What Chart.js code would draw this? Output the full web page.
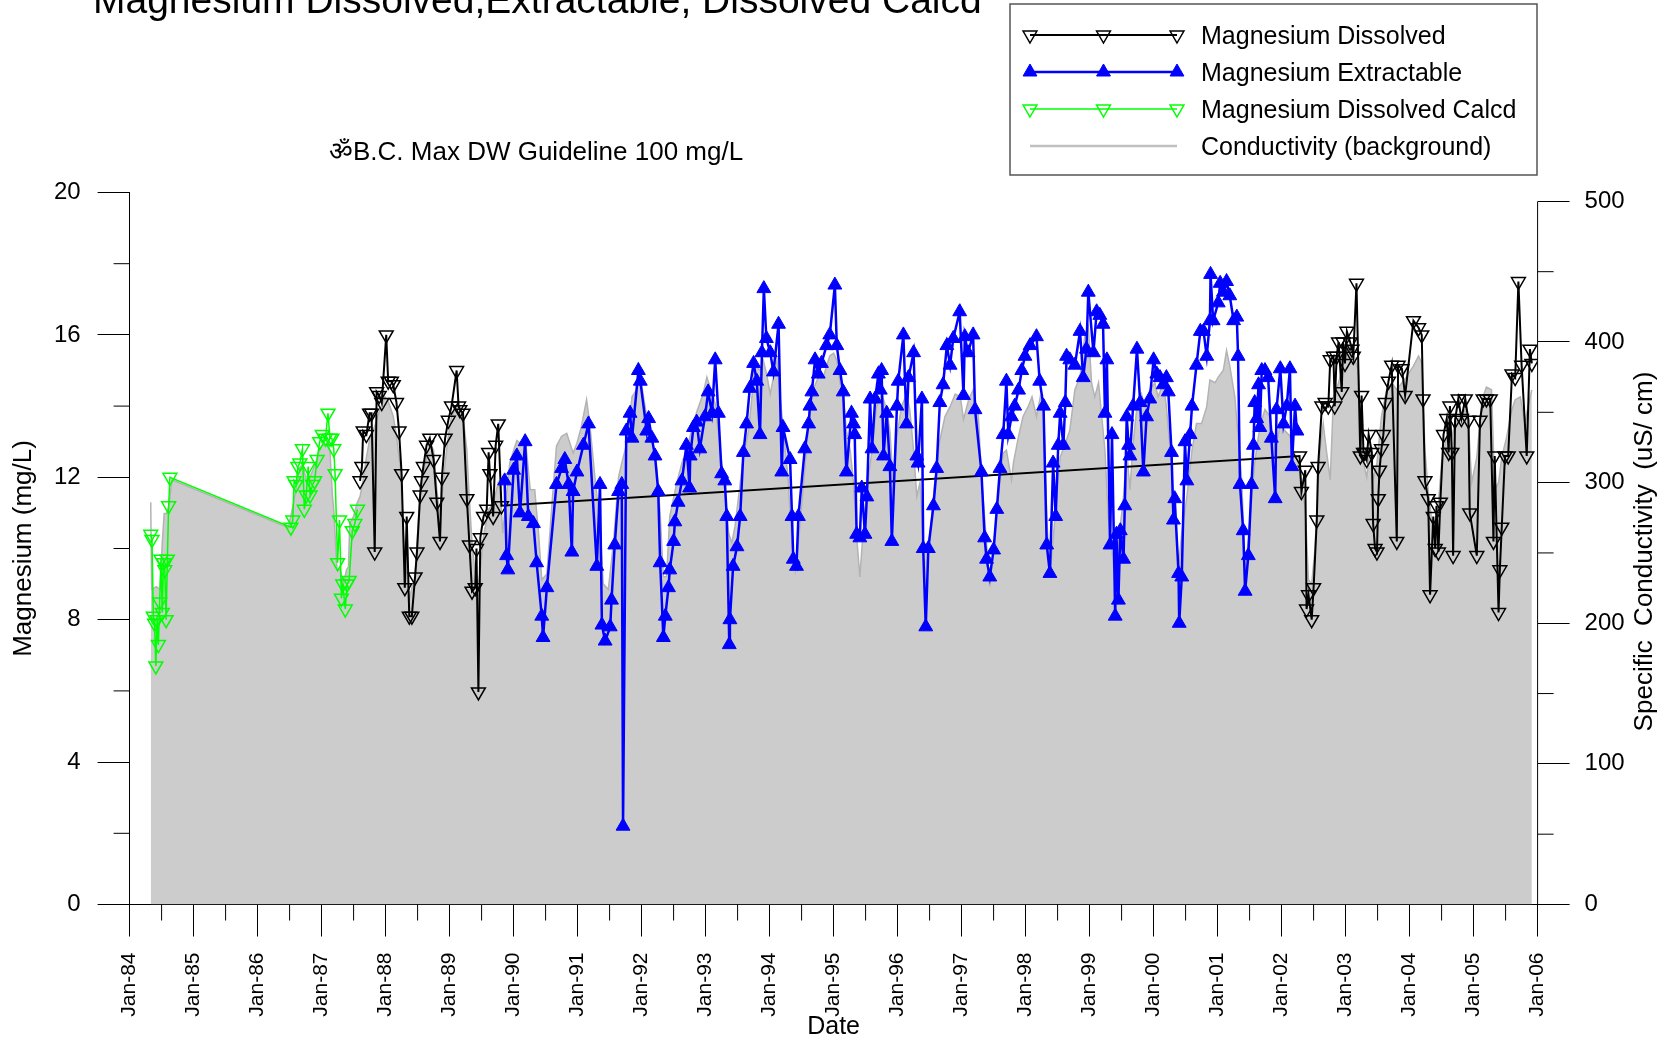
<!DOCTYPE html>
<html>
<head>
<meta charset="utf-8">
<script src="https://cdn.jsdelivr.net/npm/chart.js@4.4.0/dist/chart.umd.min.js"></script>
<style>
  html, body { margin: 0; padding: 0; background: #fff; }
</style>
</head>
<body>
<canvas id="chart" width="1665" height="1040"></canvas>
<script>
// [decimal year, mg/L]
var calcdMg = [
  [1984.33,10.4],[1984.35,10.25],[1984.37,8.1],[1984.39,7.9],[1984.41,6.7],[1984.43,8.0],[1984.45,7.3],[1984.47,8.5],
  [1984.49,9.7],[1984.51,8.2],[1984.53,9.6],[1984.55,9.4],[1984.57,8.0],[1984.59,9.7],[1984.61,11.2],[1984.63,12.0],
  [1986.52,10.6],[1986.55,10.8],[1986.57,11.9],[1986.60,11.8],[1986.63,12.3],[1986.66,12.4],[1986.70,12.8],[1986.73,11.1],
  [1986.76,11.5],[1986.79,12.3],[1986.82,11.5],[1986.86,11.8],[1986.89,11.9],[1986.93,12.5],[1986.97,13.0],[1987.01,13.2],
  [1987.06,13.1],[1987.10,13.8],[1987.13,13.1],[1987.16,13.1],[1987.19,12.8],[1987.21,12.1],[1987.25,9.6],[1987.28,10.8],
  [1987.31,8.6],[1987.33,9.0],[1987.37,8.3],[1987.40,9.0],[1987.43,9.1],[1987.48,10.5],[1987.52,10.7],[1987.56,11.1]
];

var dissolvedMg = [
  [1987.60,11.9],[1987.63,12.3],[1987.65,13.3],[1987.70,13.2],[1987.75,13.8],[1987.78,13.8],[1987.83,9.9],[1987.86,14.4],
  [1987.90,14.3],[1987.94,14.1],[1988.01,16.0],[1988.04,14.7],[1988.09,14.7],[1988.12,14.6],[1988.17,14.1],[1988.21,13.3],
  [1988.25,12.1],[1988.30,8.9],[1988.33,10.9],[1988.37,8.1],[1988.41,8.1],[1988.46,9.2],[1988.49,9.9],[1988.54,11.5],
  [1988.56,11.9],[1988.59,12.3],[1988.64,12.9],[1988.69,13.1],[1988.75,12.5],[1988.80,11.3],[1988.85,10.2],[1988.88,12.0],
  [1988.93,13.1],[1988.98,13.6],[1989.03,14.0],[1989.11,15.0],[1989.14,14.0],[1989.16,13.9],[1989.21,13.8],[1989.27,11.4],
  [1989.31,10.1],[1989.35,8.8],[1989.40,8.9],[1989.42,10.0],[1989.45,5.97],[1989.48,10.3],[1989.53,10.9],[1989.58,11.1],
  [1989.61,12.7],[1989.63,12.1],[1989.68,10.9],[1989.72,12.9],[1989.76,13.5],[1989.81,11.2],
  [2002.28,12.6],[2002.31,11.6],[2002.37,12.2],[2002.39,8.3],[2002.42,8.7],[2002.47,8.0],[2002.50,8.9],[2002.55,10.8],
  [2002.57,12.3],[2002.63,14.0],[2002.68,14.1],[2002.73,14.0],[2002.76,15.3],[2002.81,15.4],[2002.83,14.0],[2002.86,15.4],
  [2002.89,15.8],[2002.94,14.4],[2002.96,15.8],[2002.99,15.2],[2003.02,16.1],[2003.07,15.8],[2003.10,15.6],[2003.12,15.4],
  [2003.17,17.45],[2003.23,12.6],[2003.25,14.3],[2003.28,12.7],[2003.30,12.7],[2003.33,12.5],[2003.36,13.2],[2003.41,12.7],
  [2003.43,10.7],[2003.46,10.0],[2003.49,9.9],[2003.51,11.4],[2003.53,12.2],[2003.56,12.8],[2003.59,13.2],[2003.62,14.1],
  [2003.67,14.7],[2003.72,15.15],[2003.80,10.2],[2003.82,15.15],[2003.88,15.05],[2003.93,14.3],[2004.06,16.4],[2004.14,16.2],
  [2004.19,16.0],[2004.21,14.2],[2004.24,11.9],[2004.29,11.4],[2004.32,8.7],[2004.37,10.9],[2004.40,10.0],[2004.42,11.2],
  [2004.45,9.9],[2004.48,11.3],[2004.53,13.2],[2004.58,13.65],[2004.61,12.7],[2004.63,14.0],[2004.66,12.7],[2004.68,9.8],
  [2004.71,13.6],[2004.76,14.2],[2004.81,13.65],[2004.87,14.2],[2004.92,13.6],[2004.94,11.0],[2005.05,9.8],[2005.10,13.6],
  [2005.15,14.2],[2005.20,14.2],[2005.26,14.2],[2005.31,10.2],[2005.33,12.6],[2005.39,8.2],[2005.41,9.4],[2005.44,10.6],
  [2005.49,12.6],[2005.54,12.6],[2005.60,14.9],[2005.65,14.8],[2005.70,17.5],[2005.75,15.15],[2005.83,12.6],[2005.88,15.6],
  [2005.91,15.2]
];

var extractableMg = [
  [1989.86,11.9],[1989.89,9.8],[1989.91,9.4],[1990.00,12.2],[1990.05,12.6],[1990.10,11.0],[1990.18,13.0],[1990.23,10.9],
  [1990.31,10.7],[1990.36,9.6],[1990.44,8.1],[1990.46,7.5],[1990.52,8.9],[1990.67,11.8],[1990.75,12.25],[1990.80,12.5],
  [1990.86,11.8],[1990.91,9.9],[1990.93,11.6],[1990.99,12.15],[1991.09,12.9],[1991.17,13.5],[1991.30,9.5],[1991.35,11.8],
  [1991.38,7.85],[1991.43,7.4],[1991.51,7.8],[1991.53,8.55],[1991.58,10.1],[1991.64,11.6],[1991.69,11.8],[1991.71,2.2],
  [1991.76,13.3],[1991.82,13.8],[1991.85,13.1],[1991.95,15.0],[1991.98,14.7],[1992.08,13.3],[1992.11,13.65],[1992.16,13.1],
  [1992.21,12.6],[1992.26,11.6],[1992.29,9.6],[1992.34,7.5],[1992.37,8.1],[1992.42,8.9],[1992.44,9.4],[1992.50,10.2],
  [1992.52,10.75],[1992.57,11.3],[1992.63,11.9],[1992.70,12.9],[1992.75,11.7],[1992.76,12.6],[1992.81,13.4],[1992.86,13.55],
  [1992.91,12.8],[1992.99,13.7],[1993.04,14.4],[1993.10,13.8],[1993.15,15.3],[1993.20,13.8],[1993.25,12.1],[1993.30,11.9],
  [1993.33,10.9],[1993.37,7.3],[1993.38,8.0],[1993.43,9.5],[1993.49,10.05],[1993.54,10.9],[1993.59,12.7],[1993.64,13.5],
  [1993.69,14.5],[1993.75,15.2],[1993.80,14.7],[1993.85,13.2],[1993.88,15.5],[1993.91,17.3],[1993.95,15.9],[1994.01,15.5],
  [1994.06,14.96],[1994.14,16.3],[1994.19,12.15],[1994.21,13.4],[1994.32,12.5],[1994.35,10.9],[1994.37,9.7],[1994.42,9.5],
  [1994.45,10.9],[1994.55,12.8],[1994.61,13.5],[1994.63,14.0],[1994.66,14.4],[1994.71,15.3],[1994.76,14.9],[1994.81,15.2],
  [1994.89,15.7],[1994.94,16.0],[1995.02,17.4],[1995.05,15.7],[1995.10,15.0],[1995.15,14.4],[1995.20,12.15],[1995.28,13.8],
  [1995.31,13.5],[1995.33,13.2],[1995.36,10.4],[1995.41,10.3],[1995.44,11.7],[1995.49,10.4],[1995.52,11.45],[1995.57,14.2],
  [1995.60,12.8],[1995.65,14.2],[1995.70,14.9],[1995.73,14.45],[1995.75,15.0],[1995.78,12.6],[1995.83,13.8],[1995.88,12.3],
  [1995.91,10.2],[1995.99,14.0],[1996.01,14.7],[1996.09,16.0],[1996.14,13.5],[1996.17,14.8],[1996.25,15.5],[1996.30,12.6],
  [1996.32,12.4],[1996.38,14.2],[1996.40,10.0],[1996.44,7.8],[1996.48,10.0],[1996.56,11.2],[1996.61,12.25],[1996.66,14.1],
  [1996.71,14.6],[1996.77,15.7],[1996.82,15.15],[1996.87,15.9],[1996.97,16.65],[1997.03,14.3],[1997.05,15.95],[1997.10,15.5],
  [1997.18,16.0],[1997.21,13.9],[1997.31,12.15],[1997.36,10.3],[1997.39,9.7],[1997.44,9.2],[1997.50,9.96],[1997.55,11.1],
  [1997.60,12.25],[1997.65,13.2],[1997.70,14.7],[1997.73,13.2],[1997.78,13.7],[1997.83,14.0],[1997.89,14.45],[1997.94,15.0],
  [1997.99,15.4],[1998.07,15.7],[1998.17,15.95],[1998.22,14.7],[1998.28,14.0],[1998.33,10.1],[1998.38,9.3],[1998.43,12.4],
  [1998.47,10.9],[1998.51,12.9],[1998.54,13.8],[1998.59,12.9],[1998.62,14.1],[1998.64,15.4],[1998.69,15.3],[1998.77,15.15],
  [1998.85,16.1],[1998.90,14.8],[1998.95,15.6],[1998.98,17.2],[1999.06,15.5],[1999.11,16.65],[1999.16,16.55],[1999.21,16.3],
  [1999.24,13.8],[1999.27,15.3],[1999.32,10.1],[1999.35,13.2],[1999.40,8.1],[1999.42,10.4],[1999.45,8.55],[1999.48,10.5],
  [1999.53,9.7],[1999.55,11.2],[1999.58,13.7],[1999.61,12.9],[1999.63,12.6],[1999.68,14.0],[1999.74,15.6],[1999.79,14.1],
  [1999.84,12.15],[1999.89,13.7],[1999.94,14.2],[2000.00,15.3],[2000.05,14.9],[2000.10,14.8],[2000.15,14.6],[2000.20,14.8],
  [2000.23,14.4],[2000.28,12.7],[2000.31,10.8],[2000.33,11.4],[2000.39,9.3],[2000.40,7.9],[2000.44,9.2],[2000.49,13.0],
  [2000.52,11.9],[2000.57,13.2],[2000.60,14.0],[2000.67,15.15],[2000.73,16.1],[2000.78,16.1],[2000.83,15.4],[2000.88,16.4],
  [2000.89,17.7],[2000.93,16.4],[2001.01,16.9],[2001.04,17.45],[2001.09,17.2],[2001.14,17.5],[2001.19,17.1],[2001.25,16.4],
  [2001.30,16.5],[2001.32,15.4],[2001.35,11.8],[2001.40,10.5],[2001.43,8.8],[2001.48,9.8],[2001.53,11.8],[2001.56,12.9],
  [2001.58,14.1],[2001.61,13.65],[2001.64,14.6],[2001.66,13.4],[2001.69,15.0],[2001.74,15.0],[2001.79,14.8],[2001.84,13.1],
  [2001.90,11.4],[2001.92,13.9],[2001.98,15.05],[2002.03,13.5],[2002.08,14.0],[2002.13,15.05],[2002.16,12.3],[2002.21,14.0],
  [2002.24,13.3]
];

// [decimal year, uS/cm]
var conductivity = [
  [1984.33,286],[1984.345,224],[1984.42,226],[1984.475,224],[1984.51,257],[1984.54,278],[1984.58,278],[1984.62,285],[1984.66,302],
  [1986.48,268],[1986.56,285],[1986.61,299],[1986.66,311],[1986.71,313],[1986.77,299],[1986.82,304],[1986.90,313],[1986.95,321],
  [1987.00,326],[1987.08,328],[1987.13,323],[1987.17,290],[1987.19,281],[1987.24,238],[1987.29,238],[1987.34,228],[1987.39,238],
  [1987.42,240],[1987.44,271],[1987.50,276],[1987.55,285],[1987.60,290],[1987.65,302],[1987.70,318],[1987.76,333],[1987.83,340],
  [1987.91,352],[1987.99,361],[1988.04,358],[1988.12,347],[1988.17,333],[1988.23,311],[1988.28,262],[1988.36,215],[1988.41,225],
  [1988.46,233],[1988.54,295],[1988.64,318],[1988.69,328],[1988.75,323],[1988.80,295],[1988.85,276],[1988.93,314],[1988.98,333],
  [1989.03,347],[1989.11,354],[1989.16,354],[1989.21,347],[1989.27,323],[1989.30,295],[1989.35,257],[1989.40,236],[1989.45,228],
  [1989.48,238],[1989.53,262],[1989.61,281],[1989.68,285],[1989.76,300],[1989.79,295],[1989.83,264],[1989.87,283],[1989.94,314],
  [1990.05,330],[1990.13,327],[1990.18,333],[1990.26,295],[1990.33,295],[1990.39,264],[1990.44,231],[1990.52,235],[1990.60,285],
  [1990.67,326],[1990.75,333],[1990.83,335],[1990.88,328],[1990.93,321],[1990.99,328],[1991.06,340],[1991.14,359],[1991.19,342],
  [1991.27,304],[1991.35,271],[1991.40,228],[1991.48,224],[1991.56,257],[1991.64,304],[1991.69,314],[1991.77,328],[1991.85,361],
  [1991.92,366],[1991.98,375],[1992.03,361],[1992.08,347],[1992.16,333],[1992.24,309],[1992.29,278],[1992.34,233],[1992.39,233],
  [1992.44,276],[1992.55,300],[1992.63,314],[1992.70,323],[1992.78,337],[1992.86,350],[1992.96,363],[1993.02,375],[1993.07,368],
  [1993.15,356],[1993.23,323],[1993.30,295],[1993.36,264],[1993.41,257],[1993.46,269],[1993.51,288],[1993.59,318],[1993.67,337],
  [1993.72,359],[1993.77,383],[1993.85,380],[1993.90,387],[1993.95,378],[1994.01,363],[1994.06,375],[1994.11,390],[1994.16,363],
  [1994.24,326],[1994.29,302],[1994.35,257],[1994.40,238],[1994.45,257],[1994.53,300],[1994.61,340],[1994.68,366],[1994.76,375],
  [1994.84,375],[1994.89,383],[1994.94,390],[1995.00,392],[1995.05,387],[1995.10,371],[1995.15,361],[1995.20,337],[1995.26,323],
  [1995.31,300],[1995.36,262],[1995.41,233],[1995.46,264],[1995.52,295],[1995.60,323],[1995.67,354],[1995.75,363],[1995.83,352],
  [1995.88,337],[1995.93,300],[1995.99,333],[1996.06,354],[1996.14,363],[1996.19,352],[1996.25,323],[1996.30,290],[1996.35,300],
  [1996.40,257],[1996.45,252],[1996.51,264],[1996.58,300],[1996.66,330],[1996.74,347],[1996.82,354],[1996.90,363],[1996.98,361],
  [1997.03,345],[1997.11,359],[1997.18,366],[1997.26,349],[1997.31,304],[1997.39,257],[1997.44,226],[1997.50,252],[1997.57,288],
  [1997.65,321],[1997.70,323],[1997.78,302],[1997.81,314],[1997.89,333],[1997.96,347],[1998.04,354],[1998.10,361],[1998.17,347],
  [1998.23,361],[1998.28,354],[1998.33,276],[1998.38,233],[1998.46,276],[1998.54,318],[1998.62,328],[1998.69,337],[1998.77,366],
  [1998.85,375],[1998.93,406],[1998.98,411],[1999.03,371],[1999.08,361],[1999.14,371],[1999.19,347],[1999.24,323],[1999.29,276],
  [1999.35,252],[1999.40,228],[1999.45,257],[1999.53,290],[1999.58,323],[1999.63,295],[1999.68,328],[1999.74,354],[1999.81,363],
  [1999.87,354],[1999.94,366],[2000.02,371],[2000.07,361],[2000.15,371],[2000.20,354],[2000.26,323],[2000.31,290],[2000.39,240],
  [2000.44,264],[2000.52,290],[2000.60,323],[2000.67,342],[2000.75,342],[2000.83,354],[2000.88,373],[2000.96,371],[2001.01,375],
  [2001.09,380],[2001.14,394],[2001.19,383],[2001.27,361],[2001.32,333],[2001.38,300],[2001.43,233],[2001.51,276],[2001.58,314],
  [2001.66,340],[2001.74,352],[2001.82,347],[2001.90,323],[2001.98,342],[2002.05,337],[2002.13,333],[2002.18,323],[2002.26,314],
  [2002.31,300],[2002.37,281],[2002.42,231],[2002.47,228],[2002.52,252],[2002.60,323],[2002.65,342],[2002.70,323],[2002.76,302],
  [2002.81,361],[2002.89,371],[2002.96,383],[2003.04,397],[2003.10,397],[2003.15,387],[2003.20,380],[2003.23,342],[2003.28,314],
  [2003.33,304],[2003.38,323],[2003.43,302],[2003.49,314],[2003.56,347],[2003.64,366],[2003.72,371],[2003.80,366],[2003.88,371],
  [2003.95,375],[2004.06,383],[2004.14,390],[2004.19,385],[2004.24,323],[2004.29,295],[2004.35,271],[2004.40,257],[2004.45,285],
  [2004.50,314],[2004.58,333],[2004.66,333],[2004.71,342],[2004.79,347],[2004.87,352],[2004.92,342],[2004.97,300],[2005.05,318],
  [2005.13,359],[2005.20,368],[2005.28,366],[2005.33,295],[2005.39,300],[2005.44,318],[2005.52,333],[2005.60,352],[2005.65,359],
  [2005.73,361],[2005.80,342],[2005.86,356],[2005.91,366]
];

// right axis labels
var condTicks = [0, 100, 200, 300, 400, 500];

var FONT = '"Liberation Sans", Arial, sans-serif';
var chartTitle = 'Magnesium Dissolved,Extractable, Dissolved Calcd';
var guideline = '\u0950B.C. Max DW Guideline 100 mg/L';
var rightTitle = 'Specific  Conductivity  (uS/ cm)';

function toXY(rows) {
    return rows.map(function (r) { return { x: r[0], y: r[1] }; });
}

function triangle(ctx, x, y, r, down) {
    var s = down ? -1 : 1;
    ctx.beginPath();
    ctx.moveTo(x, y - s * r);
    ctx.lineTo(x + r * 0.866, y + s * r / 2);
    ctx.lineTo(x - r * 0.866, y + s * r / 2);
    ctx.closePath();
}

// titles, legend box, minor ticks and the right axis line
var decorPlugin = {
    id: 'decor',
    afterDraw: function (chart) {
        var ctx = chart.ctx, a = chart.chartArea;
        var x = chart.scales.x, y = chart.scales.y, y2 = chart.scales.y2;
        ctx.save();

        ctx.strokeStyle = '#000';
        ctx.lineWidth = 1;
        ctx.beginPath();
        for (var yr = 1984.5; yr < 2006; yr += 1) {
            var px = x.getPixelForValue(yr);
            ctx.moveTo(px, a.bottom); ctx.lineTo(px, a.bottom + 16);
        }
        for (var v = 2; v < 20; v += 4) {
            var py = y.getPixelForValue(v);
            ctx.moveTo(a.left - 16, py); ctx.lineTo(a.left, py);
        }
        for (var c = 50; c < 500; c += 100) {
            var py2 = y2.getPixelForValue(c);
            ctx.moveTo(a.right, py2); ctx.lineTo(a.right + 16, py2);
        }
        ctx.moveTo(a.right, y2.getPixelForValue(500));
        ctx.lineTo(a.right, a.bottom);
        ctx.stroke();

        ctx.fillStyle = '#000';
        ctx.textAlign = 'left';
        ctx.textBaseline = 'alphabetic';
        ctx.font = '39px ' + FONT;
        ctx.fillText(chartTitle, 93, 13);
        ctx.font = '26px ' + FONT;
        ctx.fillText(guideline, 329, 160);

        ctx.save();
        ctx.translate(chart.width - 20, (a.top + a.bottom) / 2 + 3);
        ctx.rotate(-Math.PI / 2);
        ctx.textAlign = 'center';
        ctx.textBaseline = 'middle';
        ctx.fillText(rightTitle, 0, 0);
        ctx.restore();

        // legend
        ctx.strokeStyle = '#555';
        ctx.lineWidth = 1.5;
        ctx.strokeRect(1010, 4, 527, 171);
        var rows = [35, 72, 109, 146];
        chart.data.datasets.forEach(function (ds, i) {
            var ry = rows[i];
            ctx.strokeStyle = ds.legendLine || ds.borderColor;
            ctx.lineWidth = ds.legendWidth || ds.borderWidth;
            ctx.beginPath();
            ctx.moveTo(1030, ry); ctx.lineTo(1177, ry);
            ctx.stroke();
            if (ds.pointRadius > 0) {
                [1030, 1103.5, 1177].forEach(function (mx) {
                    triangle(ctx, mx, ry, ds.pointRadius, ds.pointRotation === 180);
                    ctx.lineWidth = ds.pointBorderWidth;
                    ctx.strokeStyle = ds.pointBorderColor;
                    ctx.fillStyle = ds.pointBackgroundColor;
                    ctx.fill();
                    ctx.stroke();
                });
            }
            ctx.fillStyle = '#000';
            ctx.textAlign = 'left';
            ctx.textBaseline = 'middle';
            ctx.font = '25px ' + FONT;
            ctx.fillText(ds.label, 1201, ry + 2);
        });
        ctx.restore();
    }
};

var tickFont = { family: FONT, size: 24 };

new Chart(document.getElementById('chart'), {
    type: 'line',
    data: {
        datasets: [{
            label: 'Magnesium Dissolved',
            data: toXY(dissolvedMg),
            yAxisID: 'y',
            borderColor: '#000000',
            borderWidth: 2,
            pointStyle: 'triangle',
            pointRotation: 180,
            pointRadius: 8,
            pointBorderWidth: 1.5,
            pointBorderColor: '#000000',
            pointBackgroundColor: 'rgba(0,0,0,0)',
            order: 1
        }, {
            label: 'Magnesium Extractable',
            data: toXY(extractableMg),
            yAxisID: 'y',
            borderColor: '#0000ff',
            borderWidth: 2.5,
            pointStyle: 'triangle',
            pointRotation: 0,
            pointRadius: 8,
            pointBorderWidth: 1,
            pointBorderColor: '#0000ff',
            pointBackgroundColor: '#0000ff',
            order: 0
        }, {
            label: 'Magnesium Dissolved Calcd',
            data: toXY(calcdMg),
            yAxisID: 'y',
            borderColor: '#00ff00',
            borderWidth: 1.5,
            pointStyle: 'triangle',
            pointRotation: 180,
            pointRadius: 8,
            pointBorderWidth: 1.5,
            pointBorderColor: '#00ff00',
            pointBackgroundColor: 'rgba(0,0,0,0)',
            order: 2
        }, {
            label: 'Conductivity (background)',
            data: toXY(conductivity),
            yAxisID: 'y2',
            borderColor: '#b3b3b3',
            borderWidth: 1.5,
            backgroundColor: '#cccccc',
            fill: 'origin',
            pointRadius: 0,
            legendLine: '#c0c0c0',
            legendWidth: 2.5,
            order: 3
        }]
    },
    options: {
        responsive: false,
        animation: false,
        events: [],
        layout: { padding: { top: 192.5, left: 0, right: 0, bottom: 0 } },
        elements: { line: { tension: 0 } },
        plugins: {
            legend: { display: false },
            tooltip: { enabled: false },
            title: { display: false }
        },
        scales: {
            x: {
                type: 'linear',
                position: 'bottom',
                min: 1984,
                max: 2006,
                afterFit: function (s) { s.height = 135.5; },
                ticks: {
                    stepSize: 1,
                    autoSkip: false,
                    minRotation: 90,
                    maxRotation: 90,
                    padding: 16,
                    color: '#000',
                    font: { family: FONT, size: 21 },
                    callback: function (v) { return 'Jan-' + String(v % 100).padStart(2, '0'); }
                },
                grid: { drawOnChartArea: false, drawTicks: true, tickLength: 32, color: '#000', lineWidth: 1 },
                border: { display: true, color: '#000', width: 1 },
                title: { display: true, text: 'Date', color: '#000', font: { family: FONT, size: 25, lineHeight: 1 }, padding: 0 }
            },
            y: {
                position: 'left',
                min: 0,
                max: 20,
                afterFit: function (s) { s.width = 129.6; },
                ticks: { stepSize: 4, padding: 17, color: '#000', font: tickFont },
                grid: { drawOnChartArea: false, drawTicks: true, tickLength: 32, color: '#000', lineWidth: 1 },
                border: { display: true, color: '#000', width: 1 },
                title: { display: true, text: 'Magnesium (mg/L)', color: '#000', font: { family: FONT, size: 26, lineHeight: 1.2 }, padding: { top: 8, bottom: 0 } }
            },
            y2: {
                position: 'right',
                min: 0,
                max: 506.3,
                afterFit: function (s) { s.width = 127.4; },
                afterBuildTicks: function (s) { s.ticks = condTicks.map(function (t) { return { value: t }; }); },
                ticks: { padding: 15, color: '#000', font: tickFont, autoSkip: false },
                grid: { drawOnChartArea: false, drawTicks: true, tickLength: 32, color: '#000', lineWidth: 1 },
                border: { display: false }
            }
        }
    },
    plugins: [decorPlugin]
});
</script>
</body>
</html>
